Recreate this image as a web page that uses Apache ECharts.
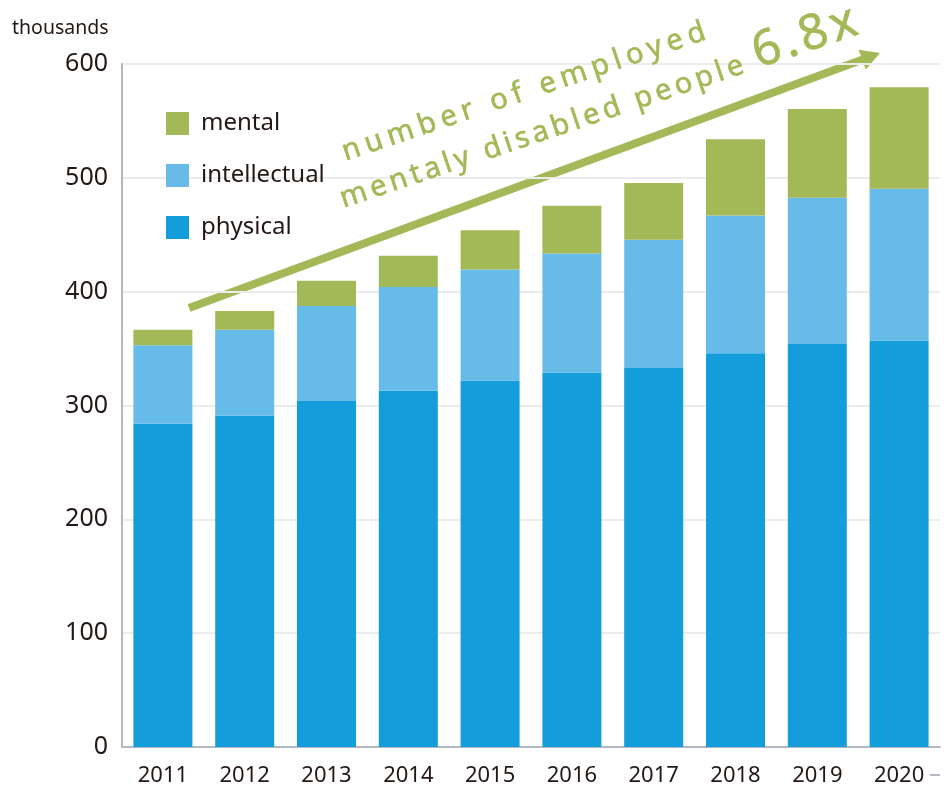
<!DOCTYPE html>
<html><head><meta charset="utf-8">
<script src="https://cdn.jsdelivr.net/npm/echarts@6/dist/echarts.min.js"></script>
<style>html,body{margin:0;padding:0;background:#fff}#wrap{position:relative;width:944px;height:787px}#c,.ov{position:absolute;left:0;top:0;width:944px;height:787px}.ov{pointer-events:none}</style>
</head><body><div id="wrap"><div id="c"></div><div id="o1" class="ov"></div><div id="o2" class="ov"></div></div>
<script>
const years = ['2011','2012','2013','2014','2015','2016','2017','2018','2019','2020'];
const physical = [284, 291, 304, 313, 322, 329, 333, 346, 354, 357];
const intellectual = [69, 75.5, 83.5, 91, 97.5, 104.5, 112.5, 121, 128.5, 133.5];
const mental = [13.5, 16.5, 22, 27.5, 34.5, 42, 50, 67, 78, 89];
const yTicks = [0, 100, 200, 300, 400, 500, 600];
const noteLine1 = 'number of employed';
const noteLine2 = 'mentaly disabled people';
const noteRatio = '6.8x';

const C_PHY = '#139dda', C_INT = '#67bbe9', C_MEN = '#a3b957';
const FONT = 'Noto Sans';
const chart = echarts.init(document.getElementById('c'), null, {renderer:'canvas'});

// arrow geometry
const tail = [189, 308], tip = [880, 53];
const dx = tip[0]-tail[0], dy = tip[1]-tail[1], L = Math.hypot(dx, dy);
const ux = dx/L, uy = dy/L, nx = -uy, ny = ux;
const HL = 19, HW = 10.5;
const bc = [tip[0]-HL*ux, tip[1]-HL*uy];

chart.setOption({
  animation: false,
  textStyle: {fontFamily: FONT},
  grid: {left: 122, right: 4, top: 64, bottom: 40, containLabel: false},
  legend: {
    orient: 'vertical', left: 166, top: 111, padding: 0, itemWidth: 23, itemHeight: 23, itemGap: 27,
    icon: 'rect', data: ['mental','intellectual','physical'],
    textStyle: {fontSize: 24, lineHeight: 23, color: '#231815', fontFamily: FONT, padding: [2,0,0,7]}
  },
  xAxis: {
    type: 'category', data: years,
    axisLine: {lineStyle: {color: '#b3b9c2', width: 2}},
    axisTick: {show: false},
    axisLabel: {fontSize: 22, color: '#231815', margin: 18, fontFamily: FONT}
  },
  yAxis: {
    type: 'value', min: yTicks[0], max: yTicks[yTicks.length-1], interval: 100,
    axisLine: {show: true, lineStyle: {color: '#b3b9c2', width: 2}},
    axisTick: {show: false},
    splitLine: {lineStyle: {color: '#ececec', width: 2}},
    axisLabel: {fontSize: 25, color: '#231815', margin: 14, fontFamily: FONT}
  },
  series: [
    {name: 'physical', type: 'bar', stack: 't', data: physical, barWidth: 59, itemStyle: {color: C_PHY}},
    {name: 'intellectual', type: 'bar', stack: 't', data: intellectual, barWidth: 59, itemStyle: {color: C_INT}},
    {name: 'mental', type: 'bar', stack: 't', data: mental, barWidth: 59, itemStyle: {color: C_MEN}}
  ],
  graphic: [
    {type: 'text', left: 12, top: 18, style: {text: 'thousands', fontSize: 19.5, fill: '#231815', fontFamily: FONT}},
    {type: 'line', shape: {x1: tail[0], y1: tail[1], x2: bc[0]+2*ux, y2: bc[1]+2*uy}, style: {stroke: C_MEN, lineWidth: 8}},
    {type: 'polygon', shape: {points: [tip, [bc[0]+HW*nx, bc[1]+HW*ny], [bc[0]-HW*nx, bc[1]-HW*ny]]}, style: {fill: C_MEN}},
    {type: 'line', shape: {x1: 930, y1: 775, x2: 940, y2: 775}, style: {stroke: '#b3b9c2', lineWidth: 2}}
  ]
});

// rotated annotation text, positioned by its baseline start point
const textAng = 18.6 * Math.PI / 180;
function noteText(str, bx, by, fs) {
  const k = 0.33 * fs; // baseline -> vertical middle of the em box
  const cx = bx - Math.sin(textAng) * k, cy = by - Math.cos(textAng) * k;
  return {type: 'text', x: cx, y: cy, rotation: textAng,
    style: {text: str, fontSize: fs, fill: C_MEN, fontFamily: FONT, textAlign: 'left', textVerticalAlign: 'middle',
            stroke: C_MEN, lineWidth: 0.6}};
}
function overlay(id, graphics, spacing) {
  const inst = echarts.init(document.getElementById(id), null, {renderer:'canvas'});
  inst.setOption({animation: false, graphic: graphics});
  try {
    const zr = inst.getZr();
    zr.flush();
    document.querySelectorAll('#' + id + ' canvas').forEach(cv => { cv.getContext('2d').letterSpacing = spacing; });
    zr.painter.refresh(true);
  } catch (e) {}
}
overlay('o1', [noteText(noteLine1, 346, 162, 29)], '5.6px');
overlay('o2', [noteText(noteLine2, 344, 209, 29), noteText(noteRatio, 759, 70, 49)], '4.1px');
</script></body></html>
